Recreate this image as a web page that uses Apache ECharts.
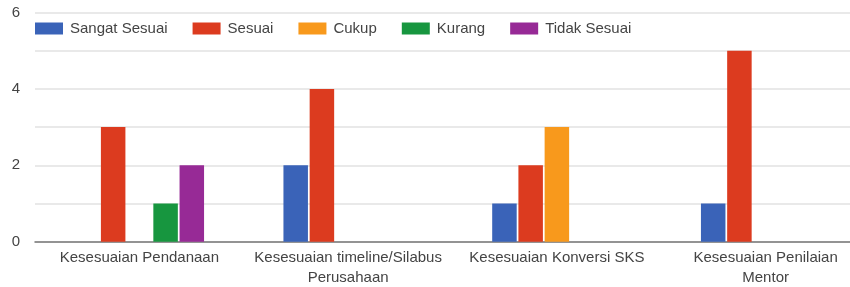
<!DOCTYPE html>
<html>
<head>
<meta charset="utf-8">
<script src="https://cdn.jsdelivr.net/npm/echarts@6/dist/echarts.min.js"></script>
<style>
  html, body { margin: 0; padding: 0; background: #fff; }
  #chart { width: 850px; height: 287px; }
</style>
</head>
<body>
<div id="chart"></div>
<script>
const categories = [
  'Kesesuaian Pendanaan',
  'Kesesuaian timeline/Silabus\nPerusahaan',
  'Kesesuaian Konversi SKS',
  'Kesesuaian Penilaian\nMentor'
]
const seriesNames = ['Sangat Sesuai', 'Sesuai', 'Cukup', 'Kurang', 'Tidak Sesuai']
const sangatSesuai = [0, 2, 1, 1]
const sesuai = [3, 4, 2, 5]
const cukup = [0, 0, 3, 0]
const kurang = [1, 0, 0, 0]
const tidakSesuai = [2, 0, 0, 0]
const colors = ['#3a63b8', '#dc3b1f', '#f8991c', '#17963f', '#972a96']

const values = [sangatSesuai, sesuai, cukup, kurang, tidakSesuai]
const font = 'Liberation Sans, Arial, sans-serif'

const chart = echarts.init(document.getElementById('chart'))
chart.setOption({
  animation: false,
  color: colors,
  textStyle: {fontFamily: font},
  legend: {
    left: 35,
    top: 21,
    padding: 0,
    itemWidth: 28,
    itemHeight: 12,
    itemGap: 25,
    icon: 'rect',
    textStyle: {fontSize: 15, color: '#444', fontFamily: font, padding: [0, 0, 0, 2]},
    data: seriesNames,
  },
  // plot area runs past the right edge, like the cropped original
  grid: {left: 35, top: 12.5, right: -20, height: 229.2, containLabel: false, outerBoundsMode: 'none'},
  xAxis: {
    type: 'category',
    data: categories,
    axisTick: {show: false},
    axisLine: {lineStyle: {color: '#777', width: 1.5}},
    axisLabel: {
      color: '#444',
      fontSize: 15,
      lineHeight: 20,
      margin: 6,
      interval: 0,
      fontFamily: font,
    },
  },
  yAxis: {
    type: 'value',
    min: 0,
    max: 6,
    interval: 1,
    axisLine: {show: false},
    axisTick: {show: false},
    splitLine: {lineStyle: {color: '#e2e2e2', width: 1.5}},
    axisLabel: {
      color: '#444',
      fontSize: 15,
      margin: 15,
      fontFamily: font,
      formatter: v => (v % 2 === 0 ? String(v) : ''),
    },
  },
  series: seriesNames.map((name, i) => ({
    name: name,
    type: 'bar',
    data: values[i],
    barWidth: 24.5,
    barGap: '7%',
  })),
})
</script>
</body>
</html>
